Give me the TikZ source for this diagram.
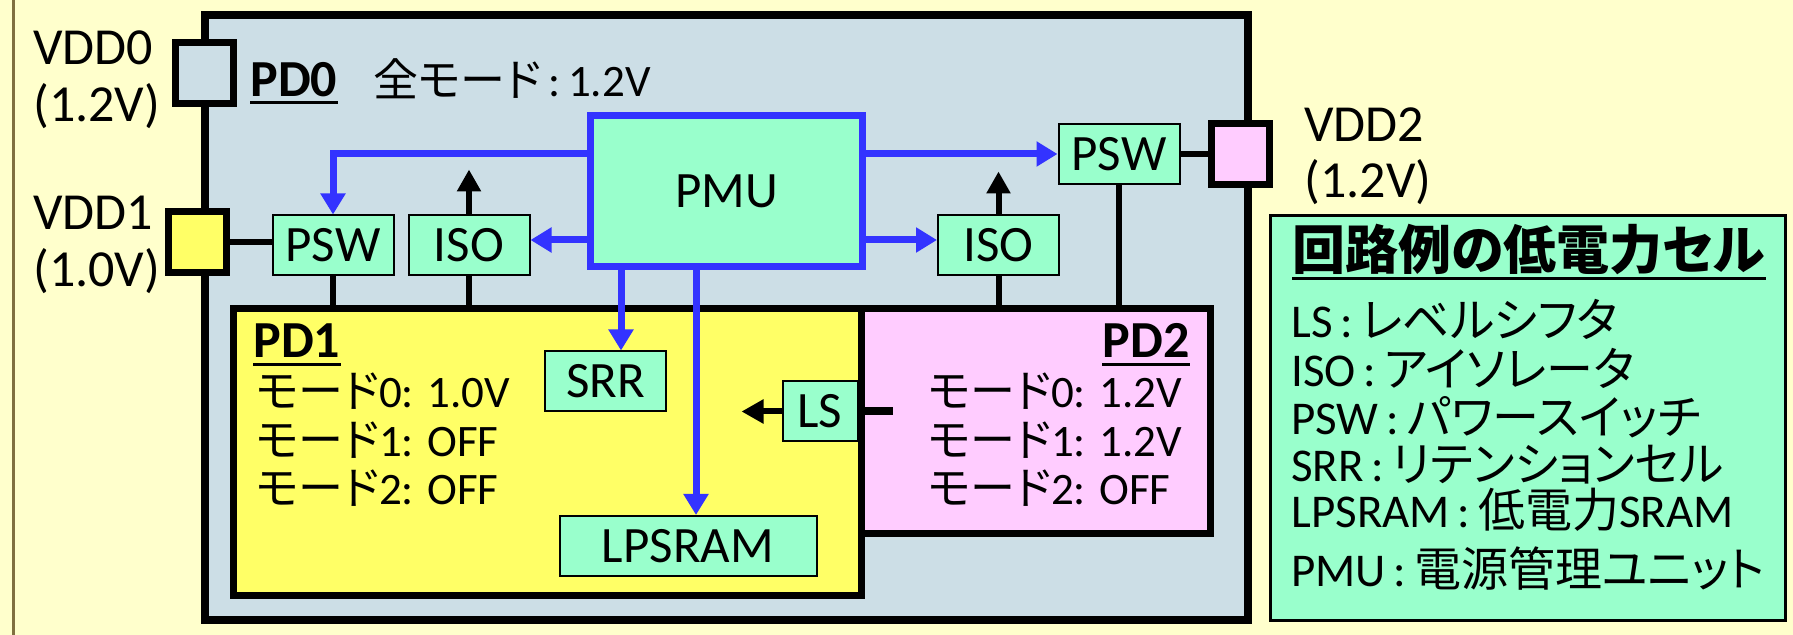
\documentclass[tikz,border=0pt]{standalone}
\usepackage{fontspec}
\setmainfont{Carlito}
\newfontfamily\jpfont[RawFeature=+palt]{Noto Sans CJK JP}
\newcommand\jtxt[1]{{\jpfont #1}}
\usetikzlibrary{arrows.meta}
\definecolor{bgc}{RGB}{255,255,204}
\definecolor{pdzero}{RGB}{204,222,230}
\definecolor{mint}{RGB}{153,255,204}
\definecolor{pdone}{RGB}{255,255,102}
\definecolor{pdtwo}{RGB}{255,204,255}
\definecolor{pmublue}{RGB}{51,51,255}
\definecolor{olivec}{RGB}{128,112,64}
\begin{document}
\begin{tikzpicture}[x=0.5pt,y=-0.5pt,
  cell/.style={draw=black, line width=1pt, fill=mint, inner sep=0pt, minimum width=60.5pt, minimum height=30pt, font=\fontsize{25.5}{30}\selectfont},
  pad/.style={draw=black, line width=3.5pt, inner sep=0pt, minimum width=29pt, minimum height=30.5pt},
  dom/.style={draw=black, line width=3.5pt, inner sep=0pt},
  bl/.style={draw=pmublue, line width=3.5pt, -{Triangle[length=10.5pt,width=12pt]}},
  bk/.style={draw=black, line width=3pt, -{Triangle[length=11pt,width=11.5pt]}},
  bkline/.style={draw=black, line width=3pt},
  txt/.style={inner sep=0pt, anchor=base west},
  bigf/.style={font=\fontsize{26}{31}\selectfont},
  boldf/.style={font=\fontsize{26}{31}\selectfont\bfseries},
  midf/.style={font=\fontsize{22.5}{27}\selectfont},
  legf/.style={font=\fontsize{23.5}{28}\selectfont},
]
\fill[bgc] (0,0) rectangle (1793,635);
\useasboundingbox (0,0) rectangle (1793,635);
\draw[olivec, line width=1.5pt] (13,0) -- (13,635);

% power domains
\node[dom, line width=4pt, fill=pdzero, minimum width=521.5pt, minimum height=302.5pt] (pd0) at (726,317.5) {};
\node[dom, fill=pdone, minimum width=314.25pt, minimum height=143.5pt] (pd1) at (547.25,452) {};
\node[dom, fill=pdtwo, minimum width=174.25pt, minimum height=112.75pt] (pd2) at (1035.75,421.25) {};

% pads
\node[pad, fill=pdzero] (vdd0) at (204.5,73) {};
\node[pad, fill=pdone] (vdd1) at (197,242) {};
\node[pad, fill=pdtwo] (vdd2) at (1240,154.5) {};

% cells
\node[cell] (pswl) at (333,245.5) {PSW};
\node[cell] (isol) at (469,245.5) {ISO};
\node[cell] (isor) at (998.5,245.5) {ISO};
\node[cell] (pswr) at (1119,154.5) {PSW};
\node[cell] (srr) at (605.5,381.5) {SRR};
\node[cell, minimum width=37.5pt] (ls) at (820,411.5) {LS};
\node[cell, minimum width=128.5pt] (lpsram) at (688,546) {LPSRAM};
\node[cell, draw=pmublue, line width=3.5pt, minimum width=136pt, minimum height=75.5pt] (pmu) at (726.5,191) {PMU};

% black supply / isolation lines
\draw[bkline] (vdd1.east) -- (vdd1.east -| pswl.west);
\draw[bkline] (pswr.east) -- (pswr.east -| vdd2.west);
\draw[bkline] (pswl.south) -- (pswl.south |- pd1.north);
\draw[bkline] (isol.south) -- (isol.south |- pd1.north);
\draw[bkline] (isor.south) -- (isor.south |- pd2.north);
\draw[bkline] (pswr.south) -- (pswr.south |- pd2.north);
\coordinate (isolup) at ([yshift=22.5pt]isol.north);
\coordinate (isorup) at ([yshift=21.5pt]isor.north);
\draw[bk] (isol.north) -- (isolup);
\draw[bk] (isor.north) -- (isorup);
\coordinate (lsin) at ([xshift=17pt]ls.east);
\coordinate (lsout) at ([xshift=-20pt]ls.west);
\draw[black, line width=4pt] (ls.east) -- (lsin);
\draw[bk] (ls.west) -- (lsout);

% PMU control lines
\coordinate (pmul1) at ([yshift=18.5pt]pmu.west);
\coordinate (pmul2) at ([yshift=-24.5pt]pmu.west);
\coordinate (pmur1) at ([yshift=18.5pt]pmu.east);
\coordinate (pmur2) at ([yshift=-24.5pt]pmu.east);
\coordinate (pmub1) at ([xshift=-52.75pt]pmu.south);
\coordinate (pmub2) at ([xshift=-15.25pt]pmu.south);
\draw[bl] (pmul1) -| (pswl.north);
\draw[bl] (pmul2) -- (pmul2 -| isol.east);
\draw[bl] (pmur1) -- (pmur1 -| pswr.west);
\draw[bl] (pmur2) -- (pmur2 -| isor.west);
\draw[bl] (pmub1) -- (pmub1 |- srr.north);
\draw[bl] (pmub2) -- (pmub2 |- lpsram.north);

% supply labels
\node[txt, bigf] (vdd0a) at (33,65) {VDD0};
\node[txt, bigf] (vdd0b) at (33,122) {(1.2V)};
\node[txt, bigf] (vdd1a) at (33,230) {VDD1};
\node[txt, bigf] (vdd1b) at (33,287) {(1.0V)};
\node[txt, bigf] (vdd2a) at (1304,142) {VDD2};
\node[txt, bigf] (vdd2b) at (1304,198) {(1.2V)};

% domain labels
\node[txt, boldf] (pd0t) at (250,97) {PD0};
\draw[line width=1.5pt] ([yshift=-3pt]pd0t.base west) -- ([yshift=-3pt]pd0t.base east);
\node[txt, midf] (pd0m) at (373,97) {\jtxt{全モード}\,:\,1.2V};

\node[txt, boldf] (pd1t) at (253,358) {PD1};
\draw[line width=1.5pt] ([yshift=-3.5pt]pd1t.base west) -- ([yshift=-3.5pt]pd1t.base east);
\node[txt, midf] (pd1a) at (256,408) {\jtxt{モード}0: 1.0V};
\node[txt, midf] (pd1b) at (256,457) {\jtxt{モード}1: OFF};
\node[txt, midf] (pd1c) at (256,505) {\jtxt{モード}2: OFF};

\node[inner sep=0pt, anchor=base east, boldf] (pd2t) at (1190,358) {PD2};
\draw[line width=1.5pt] ([yshift=-3.5pt]pd2t.base west) -- ([yshift=-3.5pt]pd2t.base east);
\node[txt, midf] (pd2a) at (928,408) {\jtxt{モード}0: 1.2V};
\node[txt, midf] (pd2b) at (928,457) {\jtxt{モード}1: 1.2V};
\node[txt, midf] (pd2c) at (928,505) {\jtxt{モード}2: OFF};

% legend
\node[draw=black, line width=1.5pt, fill=mint, minimum width=257.25pt, minimum height=202.5pt, inner sep=0pt] (legend) at (1527.75,418) {};
\node[txt, font=\fontsize{26.5}{31}\selectfont\jpfont\bfseries] (legt) at (1292,270) {回路例の低電力セル};
\draw[line width=1.5pt] ([yshift=-4.5pt]legt.base west) -- ([yshift=-4.5pt]legt.base east);
\node[txt, legf] (leg1) at (1291,338) {LS\,:\,\jtxt{レベルシフタ}};
\node[txt, legf] (leg2) at (1291,387) {ISO\,:\,\jtxt{アイソレータ}};
\node[txt, legf] (leg3) at (1291,435) {PSW\,:\,\jtxt{パワースイッチ}};
\node[txt, legf] (leg4) at (1291,482) {SRR\,:\,\jtxt{リテンションセル}};
\node[txt, legf] (leg5) at (1291,528) {LPSRAM\,:\,\jtxt{低電力}SRAM};
\node[txt, legf] (leg6) at (1291,587) {PMU\,:\,\jtxt{電源管理ユニット}};
\end{tikzpicture}
\end{document}
